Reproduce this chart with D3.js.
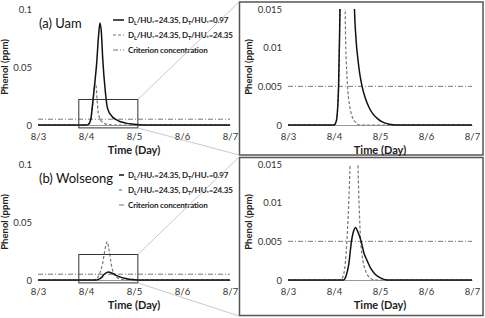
<!DOCTYPE html>
<html>
<head>
<meta charset="utf-8">
<script src="https://cdn.jsdelivr.net/npm/d3@7"></script>
<style>
  body { margin: 0; background: #fff; }
  text { font-family: Lato, "Liberation Sans", sans-serif; }
</style>
</head>
<body>
<svg id="chart" width="485" height="318"></svg>
<script>
/* DATA */
const dayTicks = [3, 4, 5, 6, 7];
const dayLabels = ["8/3", "8/4", "8/5", "8/6", "8/7"];
const fullTicks = [0, 0.05, 0.1];
const fullTickLabels = ["0", "0.05", "0.1"];
const zoomTicks = [0, 0.005, 0.01, 0.015];
const zoomTickLabels = ["0", "0.005", "0.01", "0.015"];
const criterion = 0.005;
const zoomBox = { t0: 3.85, t1: 5.08, v0: -0.0025, v1: 0.022 };

// [day, ppm]  (Uam, D_T/HU* = 0.97)
const uamSolid = [[3, 0], [4, 0], [4.05, 0.0005], [4.1, 0.005], [4.13, 0.015], [4.18, 0.035], [4.22, 0.052],
  [4.26, 0.076], [4.29, 0.088], [4.32, 0.08], [4.35, 0.056], [4.4, 0.03], [4.44, 0.016], [4.48, 0.011],
  [4.52, 0.0085], [4.56, 0.0066], [4.61, 0.005], [4.68, 0.0035], [4.76, 0.0023], [4.85, 0.0014],
  [4.95, 0.0008], [5.05, 0.0004], [5.2, 0.0001], [5.35, 0], [7, 0]];
// Uam, D_T/HU* = 24.35
const uamDashed = [[3, 0], [4, 0], [4.05, 0.0005], [4.1, 0.005], [4.13, 0.015], [4.16, 0.028], [4.19, 0.036],
  [4.21, 0.034], [4.23, 0.022], [4.25, 0.012], [4.28, 0.0065], [4.3, 0.0045], [4.34, 0.0025],
  [4.4, 0.001], [4.48, 0.0003], [4.55, 0], [7, 0]];
// Wolseong, D_T/HU* = 0.97
const wolSolid = [[3, 0], [4.2, 0], [4.26, 0.0005], [4.32, 0.002], [4.38, 0.005], [4.43, 0.0064], [4.47, 0.0068],
  [4.52, 0.0062], [4.59, 0.005], [4.65, 0.0035], [4.72, 0.0025], [4.8, 0.0015], [4.9, 0.0007],
  [5.0, 0.0003], [5.15, 0], [7, 0]];
// Wolseong, D_T/HU* = 24.35
const wolDashed = [[3, 0], [4.15, 0], [4.22, 0.001], [4.28, 0.005], [4.32, 0.01], [4.35, 0.015], [4.39, 0.025],
  [4.44, 0.033], [4.48, 0.026], [4.52, 0.015], [4.55, 0.009], [4.58, 0.005], [4.63, 0.0025],
  [4.7, 0.001], [4.8, 0.0002], [4.9, 0], [7, 0]];

const svg = d3.select("#chart");
let clipId = 0;

function legendText(sel, dT) {
  sel.append("tspan").text("D");
  sel.append("tspan").attr("font-size", 5.5).attr("dy", 2).text("L");
  sel.append("tspan").attr("dy", -2).text("/HU");
  sel.append("tspan").attr("font-size", 5.5).attr("dy", 2).text("*");
  sel.append("tspan").attr("dy", -2).text("=24.35, D");
  sel.append("tspan").attr("font-size", 5.5).attr("dy", 2).text("T");
  sel.append("tspan").attr("dy", -2).text("/HU");
  sel.append("tspan").attr("font-size", 5.5).attr("dy", 2).text("*");
  sel.append("tspan").attr("dy", -2).text("=" + dT);
}

function drawPanel(p) {
  const x = d3.scaleLinear().domain([3, 7]).range([p.x0, p.x1]);
  const y = d3.scaleLinear().domain([0, p.ymax]).range([p.yb, p.yt]);
  const g = svg.append("g");

  if (p.frame) {
    g.append("rect").attr("x", p.frame[0]).attr("y", p.frame[1])
      .attr("width", p.frame[2]).attr("height", p.frame[3])
      .attr("fill", "#fff").attr("stroke", "#555").attr("stroke-width", 1.5);
  }

  // x axis
  const xAxis = d3.axisBottom(x).tickValues(dayTicks)
    .tickFormat((d, i) => dayLabels[i]).tickSize(0).tickPadding(8);
  const xg = g.append("g").attr("transform", `translate(0,${p.yb})`).call(xAxis);
  xg.select(".domain").attr("stroke", "#999").attr("stroke-width", 1);
  xg.selectAll("text").attr("font-size", 9.5).attr("fill", "#333");

  // y axis
  const yAxis = d3.axisLeft(y).tickValues(p.ticks)
    .tickFormat((d, i) => p.tickLabels[i]).tickSize(0).tickPadding(6);
  const yg = g.append("g").attr("transform", `translate(${p.x0},0)`).call(yAxis);
  yg.select(".domain").remove();
  yg.selectAll("text").attr("font-size", 9.5).attr("fill", "#333");

  g.append("text").attr("x", (p.x0 + p.x1) / 2).attr("y", p.yb + 29)
    .attr("text-anchor", "middle").attr("font-size", 11).attr("font-weight", "bold")
    .attr("fill", "#222").text("Time (Day)");
  g.append("text")
    .attr("transform", `translate(${p.titleX},${(p.yb + p.yt) / 2}) rotate(-90)`)
    .attr("text-anchor", "middle").attr("font-size", 9.5).attr("font-weight", "bold")
    .attr("fill", "#222").text("Phenol (ppm)");

  const id = "clip" + (clipId++);
  g.append("clipPath").attr("id", id).append("rect")
    .attr("x", p.x0).attr("y", p.yt).attr("width", p.x1 - p.x0).attr("height", p.yb - p.yt + 2);
  const plot = g.append("g").attr("clip-path", `url(#${id})`);

  plot.append("line").attr("x1", x(3)).attr("x2", x(7))
    .attr("y1", y(criterion)).attr("y2", y(criterion))
    .attr("stroke", "#777").attr("stroke-width", 1).attr("stroke-dasharray", "5,2,1,2");

  const line = d3.line().x(d => x(d[0])).y(d => y(d[1])).curve(d3.curveMonotoneX);
  plot.append("path").datum(p.dashed).attr("d", line).attr("fill", "none")
    .attr("stroke", "#777").attr("stroke-width", 1.2).attr("stroke-dasharray", "3,2");
  plot.append("path").datum(p.solid).attr("d", line).attr("fill", "none")
    .attr("stroke", "#111").attr("stroke-width", 1.5);

  if (p.label) {
    g.append("text").attr("x", p.x0 + 1).attr("y", p.yt + 19)
      .attr("font-size", 13).attr("fill", "#111").text(p.label);

    const styles = [
      { stroke: "#111", w: 1.5, dash: null },
      { stroke: "#777", w: 1.2, dash: "3,2" },
      { stroke: "#777", w: 1, dash: "5,2,1,2" }
    ];
    styles.forEach((s, i) => {
      const ly = p.legendY + i * 15;
      g.append("line").attr("x1", p.legendX0).attr("x2", 124).attr("y1", ly).attr("y2", ly)
        .attr("stroke", s.stroke).attr("stroke-width", s.w).attr("stroke-dasharray", s.dash);
      const t = g.append("text").attr("x", 128).attr("y", ly + 3)
        .attr("font-size", 8).attr("letter-spacing", -0.15)
        .attr("font-weight", "bold").attr("fill", "#222");
      if (i === 0) legendText(t, "0.97");
      else if (i === 1) legendText(t, "24.35");
      else t.text("Criterion concentration");
    });

    // zoom box and connectors
    g.append("rect").attr("x", x(zoomBox.t0)).attr("y", y(zoomBox.v1))
      .attr("width", x(zoomBox.t1) - x(zoomBox.t0)).attr("height", y(zoomBox.v0) - y(zoomBox.v1))
      .attr("fill", "none").attr("stroke", "#333").attr("stroke-width", 1);
    svg.append("line").attr("x1", x(zoomBox.t1)).attr("y1", y(zoomBox.v1))
      .attr("x2", p.connect[0]).attr("y2", p.connect[1]).attr("stroke", "#bbb").attr("stroke-width", 0.8);
    svg.append("line").attr("x1", x(zoomBox.t1)).attr("y1", y(zoomBox.v0))
      .attr("x2", p.connect[0]).attr("y2", p.connect[2]).attr("stroke", "#bbb").attr("stroke-width", 0.8);
  }
}

// right-hand zoomed panels first so the connectors sit on top
drawPanel({ x0: 288, x1: 472, yt: 9, yb: 125, ymax: 0.015, ticks: zoomTicks, tickLabels: zoomTickLabels,
  titleX: 252, solid: uamSolid, dashed: uamDashed, frame: [239.5, 2, 243.5, 153] });
drawPanel({ x0: 288, x1: 472, yt: 164, yb: 280, ymax: 0.015, ticks: zoomTicks, tickLabels: zoomTickLabels,
  titleX: 252, solid: wolSolid, dashed: wolDashed, frame: [239.5, 157.5, 243.5, 158] });

drawPanel({ x0: 38, x1: 230, yt: 9, yb: 125, ymax: 0.1, ticks: fullTicks, tickLabels: fullTickLabels,
  titleX: 8, solid: uamSolid, dashed: uamDashed, label: "(a) Uam", legendY: 20, legendX0: 113,
  connect: [239, 2, 155] });
drawPanel({ x0: 38, x1: 230, yt: 164, yb: 280, ymax: 0.1, ticks: fullTicks, tickLabels: fullTickLabels,
  titleX: 8, solid: wolSolid, dashed: wolDashed, label: "(b) Wolseong", legendY: 175, legendX0: 119,
  connect: [239, 157, 316] });
</script>
</body>
</html>
